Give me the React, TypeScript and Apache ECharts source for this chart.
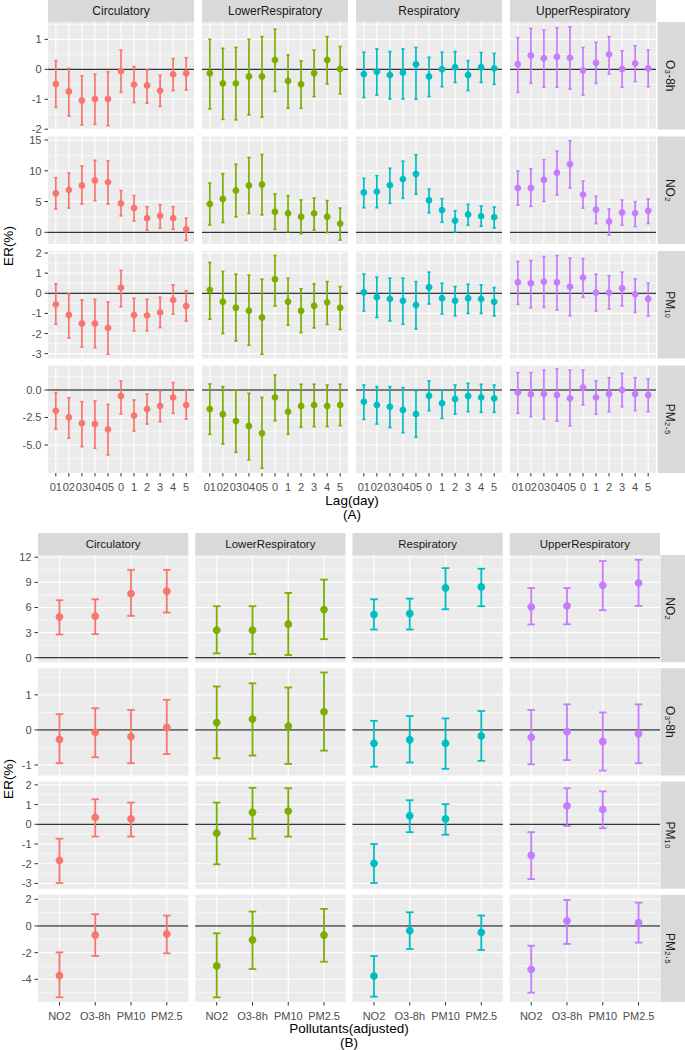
import React, { useEffect, useRef } from "react";
import * as echarts from "echarts";

// ---------- categories & labels ----------
const outcomes = ["Circulatory", "LowerRespiratory", "Respiratory", "UpperRespiratory"];
const outcomeColors = ["#F8766D", "#7CAE00", "#00BFC4", "#C77CFF"];
const lagLabels = ["01", "02", "03", "04", "05", "0", "1", "2", "3", "4", "5"];
const pollutantLabels = ["NO2", "O3-8h", "PM10", "PM2.5"];
const rowLabelsA = ["O₃-8h", "NO₂", "PM₁₀", "PM₂.₅"];
const rowLabelsB = ["NO₂", "O₃-8h", "PM₁₀", "PM₂.₅"];

// ---------- y scales (ticks) ----------
const yTicksA = [[-2, -1, 0, 1], [0, 5, 10, 15], [-3, -2, -1, 0, 1, 2], [-5, -2.5, 0]];
const yMinorA = [[-1.5, -0.5, 0.5, 1.5], [2.5, 7.5, 12.5], [-2.5, -1.5, -0.5, 0.5, 1.5], [-6.25, -3.75, -1.25, 1.25]];
const yLimitsA = [[-2.01, 1.58], [-1.9, 15.57], [-3.24, 2.1], [-7.55, 2.23]];
const yDecimalsA = [0, 0, 0, 1];

const yTicksB = [[0, 3, 6, 9, 12], [-1, 0, 1], [-3, -2, -1, 0, 1, 2], [-4, -2, 0, 2]];
const yMinorB = [[1.5, 4.5, 7.5, 10.5], [-0.5, 0.5, 1.5], [-2.5, -1.5, -0.5, 0.5, 1.5], [-5, -3, -1, 1]];
const yLimitsB = [[-0.54, 12.27], [-1.3, 1.76], [-3.27, 2.17], [-5.7, 2.34]];
const yDecimalsB = [0, 0, 0, 0];

// ---------- data: [ER, lower, upper] ----------
// (A) lag structure
const lagO3Circulatory = [[-0.49,-1.27,0.29],[-0.74,-1.56,0.03],[-1.04,-1.86,-0.22],[-0.99,-1.84,-0.16],[-0.99,-1.88,-0.08],[-0.06,-0.77,0.64],[-0.51,-1.11,0.09],[-0.54,-1.13,-0.02],[-0.71,-1.24,-0.2],[-0.17,-0.71,0.36],[-0.13,-0.69,0.39]];
const lagO3Lower = [[-0.13,-1.32,1.0],[-0.47,-1.67,0.7],[-0.47,-1.69,0.73],[-0.24,-1.52,1.0],[-0.24,-1.6,1.09],[0.31,-0.74,1.34],[-0.39,-1.3,0.48],[-0.5,-1.3,0.28],[-0.13,-0.91,0.64],[0.31,-0.49,1.09],[0.01,-0.82,0.76]];
const lagO3Resp = [[-0.16,-0.94,0.57],[-0.08,-0.86,0.68],[-0.19,-0.99,0.59],[-0.11,-0.99,0.68],[0.17,-1.0,0.73],[-0.24,-0.91,0.4],[0.0,-0.58,0.57],[0.07,-0.44,0.59],[-0.19,-0.71,0.29],[0.07,-0.44,0.56],[0.03,-0.5,0.53]];
const lagO3Upper = [[0.17,-0.77,1.06],[0.46,-0.47,1.37],[0.37,-0.6,1.31],[0.42,-0.6,1.39],[0.39,-0.66,1.42],[-0.04,-0.86,0.73],[0.22,-0.47,0.9],[0.5,-0.16,1.09],[0.01,-0.6,0.62],[0.2,-0.41,0.79],[0.03,-0.58,0.64]];

const lagNO2Circulatory = [[6.35,3.78,8.87],[6.9,3.94,9.63],[7.6,4.6,10.78],[8.43,5.15,11.7],[8.16,4.6,11.6],[4.7,2.68,6.79],[3.94,1.86,5.97],[2.3,0.33,4.16],[2.68,0.66,4.49],[2.3,0.49,4.16],[0.49,-1.31,2.3]];
const lagNO2Lower = [[4.6,1.2,8.0],[5.42,1.59,9.52],[6.79,2.52,11.06],[7.6,3.07,12.15],[7.77,2.85,12.64],[3.34,0.49,6.24],[3.07,0.11,5.97],[2.52,-0.22,5.25],[3.07,0.38,5.58],[2.52,-0.05,5.15],[1.42,-1.26,3.94]];
const lagNO2Resp = [[6.46,4.0,8.76],[6.62,4.0,9.2],[7.66,4.7,10.4],[8.65,5.53,11.55],[9.47,6.18,12.6],[5.2,3.17,7.0],[3.61,1.64,5.47],[1.9,0.05,3.5],[2.9,1.15,4.54],[2.63,0.98,4.27],[2.46,0.71,4.1]];
const lagNO2Upper = [[7.2,4.43,9.96],[7.2,4.21,10.3],[8.54,5.03,11.8],[9.69,6.07,13.2],[11.06,7.2,14.9],[6.13,3.94,8.32],[3.67,1.42,5.86],[1.75,-0.44,3.78],[3.23,1.15,5.25],[3.12,0.93,4.98],[3.5,1.42,5.42]];

const lagPM10Circulatory = [[-0.55,-1.53,0.47],[-1.08,-2.22,-0.03],[-1.5,-2.67,-0.33],[-1.5,-2.7,-0.3],[-1.72,-3.03,-0.43],[0.28,-0.67,1.13],[-1.08,-1.87,-0.25],[-1.1,-1.87,-0.3],[-0.95,-1.7,-0.2],[-0.33,-1.03,0.42],[-0.63,-1.38,0.12]];
const lagPM10Lower = [[0.17,-1.28,1.53],[-0.42,-2.0,1.08],[-0.72,-2.37,0.95],[-0.87,-2.58,0.9],[-1.2,-3.03,0.7],[0.7,-0.63,1.88],[-0.42,-1.58,0.75],[-0.87,-1.95,0.22],[-0.62,-1.72,0.47],[-0.45,-1.55,0.58],[-0.72,-1.8,0.33]];
const lagPM10Resp = [[0.05,-0.88,0.95],[-0.2,-1.2,0.8],[-0.28,-1.37,0.75],[-0.37,-1.53,0.75],[-0.58,-1.78,0.58],[0.3,-0.53,1.05],[-0.25,-1.03,0.5],[-0.37,-1.12,0.33],[-0.25,-1.0,0.45],[-0.28,-1.0,0.42],[-0.42,-1.12,0.28]];
const lagPM10Upper = [[0.55,-0.55,1.58],[0.5,-0.72,1.63],[0.58,-0.7,1.83],[0.55,-0.83,1.88],[0.33,-1.12,1.75],[0.78,-0.2,1.72],[0.03,-0.88,0.95],[0.03,-0.78,0.87],[0.25,-0.63,1.05],[-0.05,-0.95,0.72],[-0.28,-1.13,0.5]];

const lagPM25Circulatory = [[-1.88,-3.55,-0.24],[-2.48,-4.39,-0.7],[-3.03,-5.15,-1.06],[-3.09,-5.3,-1.0],[-3.58,-5.9,-1.3],[-0.55,-2.18,0.82],[-2.33,-3.73,-0.91],[-1.73,-3.09,-0.36],[-1.45,-2.88,-0.09],[-0.67,-2.12,0.67],[-1.36,-2.64,0.0]];
const lagPM25Lower = [[-1.73,-4.03,0.55],[-2.21,-4.91,0.3],[-2.82,-5.67,0.0],[-3.27,-6.36,-0.3],[-3.94,-7.12,-0.67],[-0.67,-2.79,1.36],[-1.97,-4.03,0.0],[-1.45,-3.39,0.52],[-1.36,-3.33,0.52],[-1.45,-3.33,0.45],[-1.36,-3.24,0.52]];
const lagPM25Resp = [[-1.06,-2.67,0.45],[-1.36,-3.09,0.3],[-1.52,-3.42,0.3],[-1.82,-3.88,0.21],[-2.18,-4.3,-0.06],[-0.52,-1.88,0.82],[-1.21,-2.58,0.0],[-0.82,-2.18,0.45],[-0.55,-1.97,0.61],[-0.67,-2.03,0.52],[-0.76,-2.03,0.45]];
const lagPM25Upper = [[-0.24,-2.12,1.58],[-0.39,-2.42,1.58],[-0.36,-2.64,1.82],[-0.45,-2.82,1.91],[-0.76,-3.27,1.82],[0.24,-1.36,1.82],[-0.67,-2.21,0.85],[-0.36,-1.97,1.12],[0.0,-1.52,1.52],[-0.36,-1.88,1.12],[-0.45,-1.97,1.0]];

// (B) two-pollutant models (null = not estimated)
const adjNO2Circulatory = [[4.88,2.78,6.87],[4.96,2.82,6.98],[7.66,5.0,10.5],[7.94,5.4,10.5]];
const adjNO2Lower = [[3.29,0.52,6.15],[3.29,0.44,6.15],[4.0,0.32,7.74],[5.75,2.22,9.33]];
const adjNO2Resp = [[5.16,3.37,6.98],[5.28,3.37,7.06],[8.33,5.79,10.7],[8.45,6.15,10.63]];
const adjNO2Upper = [[6.07,3.97,8.33],[6.19,4.0,8.33],[8.65,5.67,11.55],[8.93,6.19,11.7]];

const adjO3Circulatory = [[-0.27,-0.95,0.45],[-0.07,-0.78,0.62],[-0.19,-0.95,0.57],[0.07,-0.69,0.86]];
const adjO3Lower = [[0.21,-0.81,1.24],[0.31,-0.73,1.33],[0.11,-0.97,1.21],[0.52,-0.59,1.64]];
const adjO3Resp = [[-0.38,-1.05,0.26],[-0.28,-0.93,0.4],[-0.38,-1.11,0.33],[-0.17,-0.88,0.54]];
const adjO3Upper = [[-0.21,-0.98,0.57],[-0.05,-0.86,0.73],[-0.33,-1.16,0.5],[-0.11,-0.95,0.73]];

const adjPM10Circulatory = [[-1.83,-2.98,-0.73],[0.35,-0.62,1.27],[0.27,-0.62,1.1],null];
const adjPM10Lower = [[-0.45,-2.03,1.1],[0.6,-0.73,1.85],[0.67,-0.62,1.83],null];
const adjPM10Resp = [[-1.98,-2.98,-1.0],[0.43,-0.4,1.22],[0.27,-0.53,1.02],null];
const adjPM10Upper = [[-1.58,-2.78,-0.4],[0.93,-0.08,1.83],[0.75,-0.2,1.67],null];

const adjPM25Circulatory = [[-3.73,-5.35,-1.98],[-0.68,-2.25,0.88],null,[-0.6,-2.05,0.78]];
const adjPM25Lower = [[-3.0,-5.35,-0.55],[-1.05,-3.23,1.08],null,[-0.68,-2.68,1.28]];
const adjPM25Resp = [[-3.75,-5.3,-2.25],[-0.35,-1.73,1.03],null,[-0.48,-1.8,0.78]];
const adjPM25Upper = [[-3.25,-5.0,-1.48],[0.38,-1.35,1.95],null,[0.25,-1.25,1.75]];

const lagData = [
  [lagO3Circulatory, lagO3Lower, lagO3Resp, lagO3Upper],
  [lagNO2Circulatory, lagNO2Lower, lagNO2Resp, lagNO2Upper],
  [lagPM10Circulatory, lagPM10Lower, lagPM10Resp, lagPM10Upper],
  [lagPM25Circulatory, lagPM25Lower, lagPM25Resp, lagPM25Upper],
];
const adjData = [
  [adjNO2Circulatory, adjNO2Lower, adjNO2Resp, adjNO2Upper],
  [adjO3Circulatory, adjO3Lower, adjO3Resp, adjO3Upper],
  [adjPM10Circulatory, adjPM10Lower, adjPM10Resp, adjPM10Upper],
  [adjPM25Circulatory, adjPM25Lower, adjPM25Resp, adjPM25Upper],
];

const FONT = "'Liberation Sans', Arial, Helvetica, sans-serif";

function buildOption() {
  const grid: any[] = [];
  const xAxis: any[] = [];
  const yAxis: any[] = [];
  const series: any[] = [];
  const graphic: any[] = [];

  const facet = (cfg: any) => {
    const {
      left0, colW, colGap, top0, rowH, rowGap, stripY, stripH, rightStripX, rightStripW, rightTextX,
      xLabels, yTicks, yMinor, yLimits, yDec, data, rowLabels, capHalf, radius, lw, stripFont, xMargin,
    } = cfg;
    const n = xLabels.length;
    const xIdx = xLabels.map((_: string, i: number) => i);
    for (let r = 0; r < 4; r++) {
      const top = top0 + r * (rowH + rowGap);
      for (let c = 0; c < 4; c++) {
        const left = left0 + c * (colW + colGap);
        const gi = grid.length;
        grid.push({
          left, top, width: colW, height: rowH, show: true, backgroundColor: "#EBEBEB",
          borderWidth: 0, containLabel: false, outerBoundsMode: "none",
        });
        const showX = r === 3;
        const showY = c === 0;
        xAxis.push({
          type: "value", gridIndex: gi, min: -0.6, max: n - 0.4,
          axisLine: { show: false }, splitLine: { show: false }, axisTick: { show: false },
          axisLabel: {
            show: showX, customValues: xIdx, margin: xMargin, color: "#4D4D4D", fontSize: 11, fontFamily: FONT,
            formatter: (v: number) => xLabels[Math.round(v)] ?? "",
          },
        });
        const ticks = yTicks[r];
        yAxis.push({
          type: "value", gridIndex: gi, min: yLimits[r][0], max: yLimits[r][1],
          axisLine: { show: false }, splitLine: { show: false }, axisTick: { show: false },
          axisLabel: {
            show: showY, customValues: ticks, margin: 6.5, color: "#4D4D4D", fontSize: 11, fontFamily: FONT,
            formatter: (v: number) => Number(v).toFixed(yDec[r]),
          },
        });
        const majors = ticks;
        const minors = yMinor[r];
        // background grid lines, zero reference line and axis ticks
        series.push({
          type: "custom", xAxisIndex: gi, yAxisIndex: gi, z: 1, silent: true, clip: false,
          data: [[0, 0]],
          renderItem: (params: any, api: any) => {
            const cs = params.coordSys;
            const x0 = cs.x, x1 = cs.x + cs.width, y0 = cs.y, y1 = cs.y + cs.height;
            const children: any[] = [];
            minors.forEach((v: number) => {
              const y = api.coord([0, v])[1];
              children.push({ type: "line", shape: { x1: x0, y1: y, x2: x1, y2: y }, style: { stroke: "#FFFFFF", lineWidth: 0.55 } });
            });
            majors.forEach((v: number) => {
              const y = api.coord([0, v])[1];
              children.push({ type: "line", shape: { x1: x0, y1: y, x2: x1, y2: y }, style: { stroke: "#FFFFFF", lineWidth: 1.1 } });
              if (showY) {
                children.push({ type: "line", shape: { x1: x0 - 3.5, y1: y, x2: x0, y2: y }, style: { stroke: "#333333", lineWidth: 1 } });
              }
            });
            xIdx.forEach((v: number) => {
              const x = api.coord([v, 0])[0];
              children.push({ type: "line", shape: { x1: x, y1: y0, x2: x, y2: y1 }, style: { stroke: "#FFFFFF", lineWidth: 1.1 } });
              if (showX) {
                children.push({ type: "line", shape: { x1: x, y1: y1, x2: x, y2: y1 + 3.5 }, style: { stroke: "#333333", lineWidth: 1 } });
              }
            });
            const yz = api.coord([0, 0])[1];
            children.push({ type: "line", shape: { x1: x0, y1: yz, x2: x1, y2: yz }, style: { stroke: "#000000", lineWidth: 1 } });
            return { type: "group", children };
          },
        });
        // error bars + points
        const color = outcomeColors[c];
        const rows: any[] = [];
        (data[r][c] as any[]).forEach((d: any, i: number) => {
          if (d) rows.push([i, d[0], d[1], d[2]]);
        });
        series.push({
          type: "custom", xAxisIndex: gi, yAxisIndex: gi, z: 5, silent: true,
          name: outcomes[c],
          dimensions: ["x", "er", "lo", "hi"],
          encode: { x: 0, y: [1, 2, 3] },
          data: rows,
          renderItem: (params: any, api: any) => {
            const x = api.value(0);
            const pLo = api.coord([x, api.value(2)]);
            const pHi = api.coord([x, api.value(3)]);
            const pE = api.coord([x, api.value(1)]);
            const px = pLo[0];
            const st = { stroke: color, lineWidth: lw };
            return {
              type: "group",
              children: [
                { type: "line", shape: { x1: px, y1: pLo[1], x2: px, y2: pHi[1] }, style: st },
                { type: "line", shape: { x1: px - capHalf, y1: pLo[1], x2: px + capHalf, y2: pLo[1] }, style: st },
                { type: "line", shape: { x1: px - capHalf, y1: pHi[1], x2: px + capHalf, y2: pHi[1] }, style: st },
                { type: "circle", shape: { cx: px, cy: pE[1], r: radius }, style: { fill: color } },
              ],
            };
          },
        });
      }
      // right strip
      graphic.push({
        type: "rect", shape: { x: rightStripX, y: top, width: rightStripW, height: rowH },
        style: { fill: "#D9D9D9" }, silent: true,
      });
      graphic.push({
        type: "text", x: rightTextX, y: top + rowH / 2, rotation: -Math.PI / 2, silent: true,
        style: { text: rowLabels[r], fill: "#1A1A1A", fontSize: 12, fontFamily: FONT, align: "center", verticalAlign: "middle" },
      });
    }
    // top strips
    for (let c = 0; c < 4; c++) {
      const left = left0 + c * (colW + colGap);
      graphic.push({
        type: "rect", shape: { x: left, y: stripY, width: colW, height: stripH },
        style: { fill: "#D9D9D9" }, silent: true,
      });
      graphic.push({
        type: "text", x: left + colW / 2, y: stripY + stripH / 2, silent: true,
        style: { text: outcomes[c], fill: "#1A1A1A", fontSize: stripFont, fontFamily: FONT, align: "center", verticalAlign: "middle" },
      });
    }
  };

  facet({
    left0: 48, colW: 146, colGap: 8, top0: 22, rowH: 107.5, rowGap: 7, stripY: 0, stripH: 22,
    rightStripX: 657.5, rightStripW: 27.5, rightTextX: 669.5, xLabels: lagLabels, yTicks: yTicksA, yMinor: yMinorA,
    yLimits: yLimitsA, yDec: yDecimalsA, data: lagData, rowLabels: rowLabelsA, capHalf: 1.6, radius: 3.4, lw: 1.7,
    stripFont: 12, xMargin: 8,
  });
  facet({
    left0: 38, colW: 150.25, colGap: 7, top0: 555, rowH: 107.25, rowGap: 6, stripY: 533, stripH: 22,
    rightStripX: 660.5, rightStripW: 24.5, rightTextX: 669.5, xLabels: pollutantLabels, yTicks: yTicksB, yMinor: yMinorB,
    yLimits: yLimitsB, yDec: yDecimalsB, data: adjData, rowLabels: rowLabelsB, capHalf: 3.8, radius: 3.9, lw: 1.8,
    stripFont: 11.5, xMargin: 8,
  });

  const title = (text: string, x: number, y: number, rotation = 0) => ({
    type: "text", x, y, rotation, silent: true,
    style: { text, fill: "#000000", fontSize: 13.5, fontFamily: FONT, align: "center", verticalAlign: "middle" },
  });
  graphic.push(title("ER(%)", 8, 246, Math.PI / 2));
  graphic.push(title("Lag(day)", 352, 500));
  graphic.push(title("(A)", 352, 514));
  graphic.push(title("ER(%)", 8, 779, Math.PI / 2));
  graphic.push(title("Pollutants(adjusted)", 349, 1028));
  graphic.push(title("(B)", 349, 1042));

  return { animation: false, backgroundColor: "#FFFFFF", grid, xAxis, yAxis, series, graphic };
}

export default function App() {
  const ref = useRef<HTMLDivElement>(null);
  useEffect(() => {
    if (!ref.current) return;
    const chart = echarts.init(ref.current, null, { renderer: "svg" });
    chart.setOption(buildOption() as any);
    return () => chart.dispose();
  }, []);
  return (
    <div
      ref={ref}
      style={{ position: "absolute", left: 0, top: 0, width: 685, height: 1050, background: "#fff" }}
    />
  );
}
